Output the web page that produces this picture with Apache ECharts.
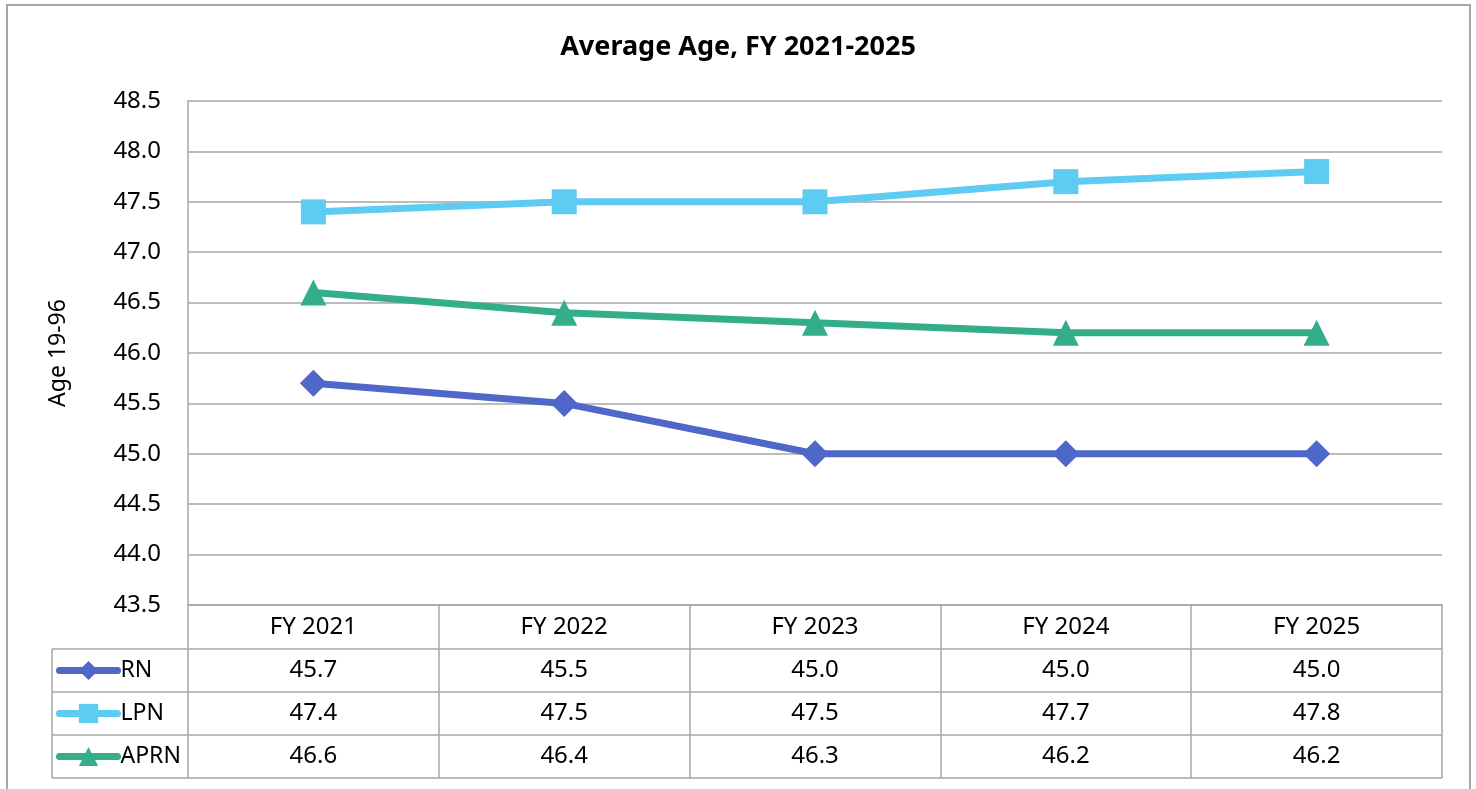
<!DOCTYPE html>
<html>
<head>
<meta charset="utf-8">
<script src="https://cdn.jsdelivr.net/npm/echarts@6/dist/echarts.min.js"></script>
<style>
  html, body { margin: 0; padding: 0; background: #fff; }
  #chart { width: 1476px; height: 789px; }
</style>
</head>
<body>
<div id="chart"></div>
<script>
const categories = ['FY 2021', 'FY 2022', 'FY 2023', 'FY 2024', 'FY 2025']
const rnValues = [45.7, 45.5, 45.0, 45.0, 45.0]
const lpnValues = [47.4, 47.5, 47.5, 47.7, 47.8]
const aprnValues = [46.6, 46.4, 46.3, 46.2, 46.2]
const seriesNames = ['RN', 'LPN', 'APRN']

const font = 'Noto Sans'
const gridColor = '#a6a6a6'
// plot / table geometry
const plotLeft = 188
const plotRight = 1442
const plotTop = 101
const plotBottom = 605
const headerH = 44
const rowH = 43
const tableLeft = 52
const legendIconH = 24

const chart = echarts.init(document.getElementById('chart'))

const seriesList = [
  { name: 'RN', data: rnValues, color: '#4f67c9', symbol: 'diamond', symbolSize: 27 },
  { name: 'LPN', data: lpnValues, color: '#5ecbf3', symbol: 'rect', symbolSize: 25 },
  { name: 'APRN', data: aprnValues, color: '#34ad8b', symbol: 'triangle', symbolSize: 26 }
]

chart.setOption({
  animation: false,
  title: {
    text: 'Average Age, FY 2021-2025',
    left: 'center',
    top: 29,
    textStyle: { fontFamily: font, fontSize: 27, fontWeight: 'bold', color: '#000' }
  },
  legend: {
    orient: 'vertical',
    left: 56,
    top: plotBottom + headerH + (rowH - legendIconH) / 2,
    padding: 0,
    itemWidth: 58,
    itemHeight: legendIconH,
    itemGap: rowH - legendIconH,
    data: seriesNames,
    lineStyle: { width: 7, cap: 'round' },
    textStyle: { fontFamily: font, fontSize: 23, color: '#000', lineHeight: legendIconH, padding: [0, 0, 0, -2] }
  },
  grid: {
    left: plotLeft,
    top: plotTop,
    width: plotRight - plotLeft,
    height: plotBottom - plotTop
  },
  xAxis: {
    type: 'category',
    data: categories,
    boundaryGap: true,
    axisLine: { lineStyle: { color: gridColor, width: 1.5 } },
    axisTick: { show: true, inside: false, length: headerH + rowH * 3, lineStyle: { color: gridColor, width: 1.5 } },
    axisLabel: { fontFamily: font, fontSize: 24, color: '#000', margin: 0, lineHeight: headerH },
    splitLine: { show: false }
  },
  yAxis: {
    type: 'value',
    min: 43.5,
    max: 48.5,
    interval: 0.5,
    name: 'Age 19-96',
    nameLocation: 'middle',
    nameRotate: 90,
    nameGap: 118,
    nameTextStyle: { fontFamily: font, fontSize: 23, color: '#000' },
    axisLine: { show: true, lineStyle: { color: gridColor, width: 1.5 } },
    axisTick: { show: false },
    axisLabel: {
      fontFamily: font, fontSize: 24, color: '#000', margin: 27,
      formatter: v => v.toFixed(1)
    },
    splitLine: { lineStyle: { color: gridColor, width: 1.5 } }
  },
  series: seriesList.map(s => ({
    name: s.name,
    type: 'line',
    data: s.data,
    symbol: s.symbol,
    symbolSize: s.symbolSize,
    showAllSymbol: true,
    color: s.color,
    lineStyle: { width: 7, color: s.color },
    itemStyle: { color: s.color },
    emphasis: { disabled: true }
  }))
})

// data table lines and values
const graphics = []
const line = (x1, y1, x2, y2) => ({
  type: 'line',
  shape: { x1, y1, x2, y2 },
  style: { stroke: gridColor, lineWidth: 1.5 },
  silent: true
})
// outer chart border
graphics.push({
  type: 'rect',
  shape: { x: 7, y: 5, width: 1463, height: 800 },
  style: { fill: null, stroke: gridColor, lineWidth: 2 },
  silent: true
})
for (let r = 1; r <= 3; r++) {
  const y = plotBottom + headerH + rowH * (r - 1)
  graphics.push(line(tableLeft, y, plotRight, y))
}
const tableBottom = plotBottom + headerH + rowH * 3
graphics.push(line(tableLeft, tableBottom, plotRight, tableBottom))
graphics.push(line(tableLeft, plotBottom + headerH, tableLeft, tableBottom))

seriesList.forEach((s, r) => {
  const y = plotBottom + headerH + rowH * r + rowH / 2
  s.data.forEach((v, i) => {
    const x = chart.convertToPixel({ xAxisIndex: 0 }, categories[i])
    graphics.push({
      type: 'text',
      x, y,
      style: {
        text: v.toFixed(1),
        fontFamily: font, fontSize: 24, fill: '#000',
        align: 'center', verticalAlign: 'middle'
      },
      silent: true
    })
  })
})

chart.setOption({ graphic: graphics })
</script>
</body>
</html>
